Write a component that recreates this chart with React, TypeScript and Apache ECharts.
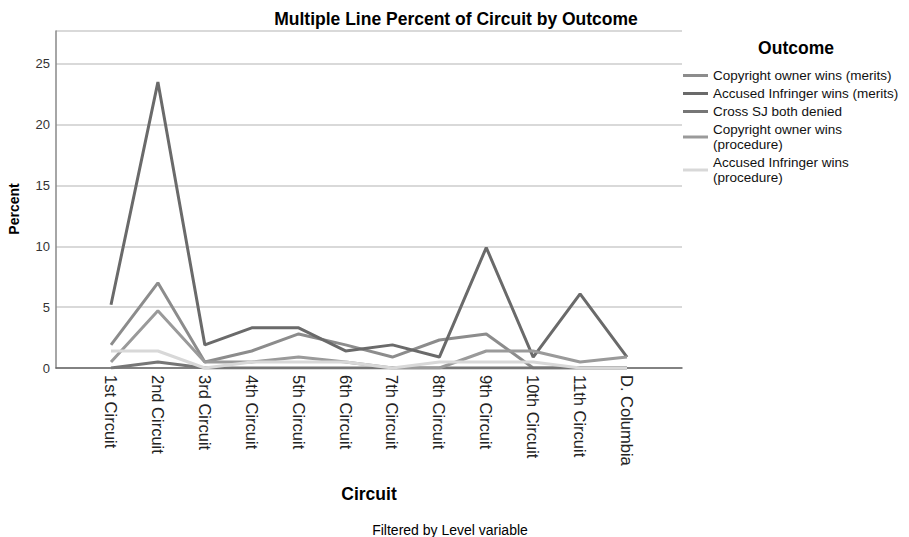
import React, { useEffect, useRef } from "react";
import * as echarts from "echarts";

const categories = [
  "1st Circuit", "2nd Circuit", "3rd Circuit", "4th Circuit", "5th Circuit", "6th Circuit",
  "7th Circuit", "8th Circuit", "9th Circuit", "10th Circuit", "11th Circuit", "D. Columbia",
];
const seriesNames = [
  "Copyright owner wins (merits)",
  "Accused Infringer wins (merits)",
  "Cross SJ both denied",
  "Copyright owner wins\n(procedure)",
  "Accused Infringer wins\n(procedure)",
];
const copyrightMerits = [1.9, 7.0, 0.5, 1.4, 2.8, 1.9, 0.9, 2.3, 2.8, 0, 0, 0];
const infringerMerits = [5.2, 23.5, 1.9, 3.3, 3.3, 1.4, 1.9, 0.9, 9.9, 0.9, 6.1, 0.9];
const crossSJ = [0, 0.5, 0, 0, 0, 0, 0, 0, 0, 0, 0, 0];
const copyrightProcedure = [0.5, 4.7, 0.5, 0.5, 0.9, 0.5, 0, 0, 1.4, 1.4, 0.5, 0.9];
const infringerProcedure = [1.4, 1.4, 0, 0.5, 0.5, 0.5, 0, 0.5, 0.5, 0.5, 0, 0];
const seriesColors = ["#8c8c8c", "#6a6a6a", "#767676", "#9a9a9a", "#d8d8d8"];
const yTicks = [0, 5, 10, 15, 20, 25];

const FONT = "'Liberation Sans', Arial, sans-serif";
const Y_MAX = 27.7;

export default function App() {
  const ref = useRef<HTMLDivElement>(null);
  useEffect(() => {
    document.body.style.margin = "0";
    const chart = echarts.init(ref.current!, null, { renderer: "svg" });
    const data = [copyrightMerits, infringerMerits, crossSJ, copyrightProcedure, infringerProcedure];
    chart.setOption({
      animation: false,
      backgroundColor: "#ffffff",
      textStyle: { fontFamily: FONT },
      title: [
        {
          text: "Multiple Line Percent of Circuit by Outcome",
          left: 451, textAlign: "center", top: 5,
          textStyle: { fontSize: 17.5, fontWeight: "bold", color: "#000", fontFamily: FONT },
        },
        {
          text: "Outcome",
          left: 791, textAlign: "center", top: 34,
          textStyle: { fontSize: 17.5, fontWeight: "bold", color: "#000", fontFamily: FONT },
        },
        {
          text: "Filtered by Level variable",
          left: 445, textAlign: "center", top: 518,
          textStyle: { fontSize: 14, fontWeight: "normal", color: "#000", fontFamily: FONT },
        },
      ],
      graphic: [
        {
          type: "text",
          x: 14, y: 209, rotation: Math.PI / 2,
          style: {
            text: "Percent", align: "center", verticalAlign: "middle",
            font: `bold 14px ${FONT}`, fill: "#000",
          },
        },
      ],
      legend: {
        orient: "vertical",
        left: 678, top: 63,
        icon: "rect", itemWidth: 25, itemHeight: 3, itemGap: 3,
        data: seriesNames,
        textStyle: { fontSize: 13.5, lineHeight: 15, color: "#111", fontFamily: FONT },
        selectedMode: false,
      },
      grid: [
        { left: 56, right: 227, top: 31, bottom: 169 },
        { left: 111, right: 282, top: 31, bottom: 169 },
      ],
      xAxis: [
        {
          gridIndex: 0, type: "value", min: 0, max: 1,
          axisLine: { show: true, lineStyle: { color: "#666", width: 1.5 } },
          axisTick: { show: false }, axisLabel: { show: false }, splitLine: { show: false },
        },
        {
          gridIndex: 1, type: "category", data: categories, boundaryGap: false,
          axisLine: { show: false }, axisTick: { show: false }, splitLine: { show: false },
          axisLabel: { rotate: -90, fontSize: 16.5, color: "#222", margin: 7, interval: 0, fontFamily: FONT },
          name: "Circuit", nameLocation: "middle", nameGap: 117,
          nameTextStyle: { fontSize: 17.5, fontWeight: "bold", color: "#000", fontFamily: FONT },
        },
      ],
      yAxis: [
        {
          gridIndex: 0, type: "value", min: 0, max: Y_MAX, interval: 5,
          axisLine: { show: true, lineStyle: { color: "#888", width: 1.5 } },
          axisTick: { show: false },
          axisLabel: {
            color: "#333", fontSize: 13, margin: 6, fontFamily: FONT,
            formatter: (v: number) => (yTicks.includes(v) ? String(v) : ""),
          },
          splitLine: { show: true, lineStyle: { color: "#cccccc", width: 1.5 } },
        },
        {
          gridIndex: 1, type: "value", min: 0, max: Y_MAX, show: false,
          splitLine: { show: false },
        },
      ],
      series: data.map((d, i) => ({
        name: seriesNames[i],
        type: "line",
        xAxisIndex: 1, yAxisIndex: 1,
        data: d,
        showSymbol: false,
        symbol: "none",
        lineStyle: { color: seriesColors[i], width: 3 },
        itemStyle: { color: seriesColors[i] },
        z: 3,
      })),
    });
    return () => chart.dispose();
  }, []);
  return <div ref={ref} style={{ width: 909, height: 537 }} />;
}
